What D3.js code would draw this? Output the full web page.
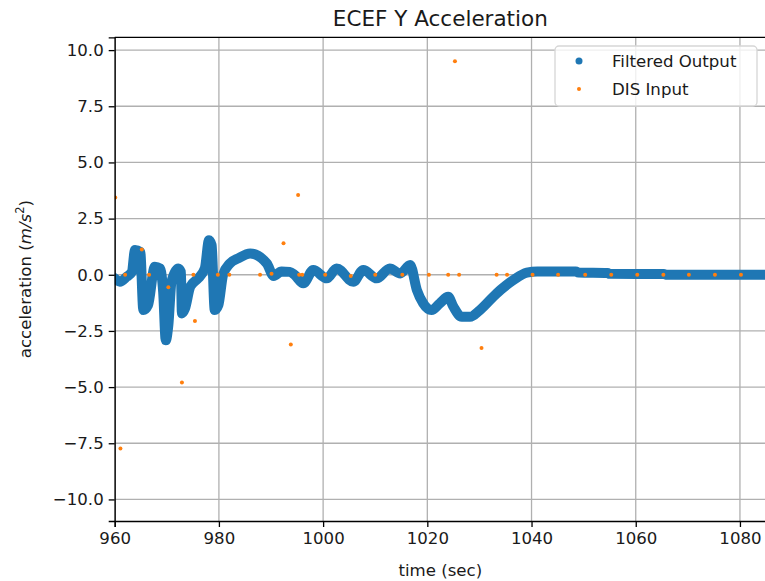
<!DOCTYPE html>
<html>
<head>
<meta charset="utf-8">
<script src="https://cdn.jsdelivr.net/npm/d3@7"></script>
<style>
  body { margin: 0; background: #fff; }
  svg { display: block; font-family: "DejaVu Sans", sans-serif; }
</style>
</head>
<body>
<svg id="chart"></svg>
<script>
'use strict';

let WIDTH = 765;
let HEIGHT = 581;

let COLOR = {
    FILTERED: '#1f77b4',
    DIS: '#ff7f0e'
};

// filtered output (time, acceleration)
let filteredT = [960.0, 961.0, 962.3, 963.3, 963.9, 964.9, 965.5, 966.4, 967.7, 968.7,
    969.3, 969.8, 970.3, 970.9, 972.2, 972.7, 972.9, 973.5, 974.5, 976.0,
    977.3, 978.1, 978.6, 979.2, 979.9, 980.8, 982.1, 983.7, 986.0, 989.2,
    990.5, 992.0, 993.6, 994.5, 996.2, 998.1, 1000.7, 1002.6, 1005.8, 1007.7,
    1010.3, 1012.8, 1014.8, 1016.7, 1018.0, 1019.2, 1020.8, 1022.4, 1024.0, 1025.0,
    1026.6, 1028.2, 1030.1, 1033.3, 1036.5, 1039.1, 1041.1, 1048.5, 1049.0, 1054.6,
    1055.0, 1065.4, 1066.0, 1085.0];
let filteredV = [-0.16, -0.31, -0.09, 0.13, 1.10, 1.02, -1.57, -1.35, 0.36, 0.28,
    -0.76, -2.92, -2.24, -0.31, 0.28, 0.13, -1.72, -1.50, -0.53, -0.16,
    0.28, 1.54, 1.32, -1.57, -1.35, 0.0, 0.50, 0.73, 0.95, 0.50,
    -0.05, 0.15, 0.13, 0.0, -0.38, 0.21, -0.16, 0.28, -0.31, 0.21,
    -0.16, 0.28, 0.06, 0.43, -0.68, -1.27, -1.57, -1.27, -0.98, -1.42,
    -1.87, -1.87, -1.57, -0.83, -0.24, 0.10, 0.15, 0.15, 0.10, 0.08,
    0.04, 0.03, 0.0, 0.0];

// DIS input samples
let disT = [960.1, 961.1, 962.0, 965.2, 966.6, 970.3, 972.9, 975.1, 975.4, 979.8,
    982.0, 987.9, 990.1, 992.4, 993.8, 995.2, 995.4, 996.0, 1000.4, 1005.3,
    1010.0, 1015.2, 1020.3, 1024.0, 1025.3, 1026.1, 1030.4, 1033.3, 1035.3, 1040.2,
    1045.1, 1050.3, 1055.3, 1060.3, 1065.3, 1070.2, 1075.2, 1080.2];
let disV = [3.44, -7.73, 0, 1.12, 0, -0.55, -4.80, 0, -2.06, 0,
    0, 0, 0.05, 1.40, -3.10, 3.55, 0, 0, 0, -0.05,
    0, 0, 0, 0, 9.50, 0, -3.26, 0, 0, 0,
    0, 0, 0, 0, 0, 0, 0, 0];

let xTicks = [960, 980, 1000, 1020, 1040, 1060, 1080];
let yTicks = [-10, -7.5, -5, -2.5, 0, 2.5, 5, 7.5, 10];

let margin = {left: 114.7, top: 37.3, right: 766, bottom: 521};

let svg = d3.select('#chart').attr('width', WIDTH).attr('height', HEIGHT);

let x = d3.scaleLinear().domain([960, 1085]).range([margin.left, margin.right]);
let y = d3.scaleLinear().domain([-10.96, 10.57]).range([margin.bottom, margin.top]);

svg.append('clipPath').attr('id', 'plot')
    .append('rect')
    .attr('x', margin.left).attr('y', margin.top)
    .attr('width', margin.right - margin.left)
    .attr('height', margin.bottom - margin.top);

// grid
let grid = svg.append('g').attr('stroke', '#b0b0b0').attr('stroke-width', 1.3);
grid.selectAll('.gx').data(xTicks).enter().append('line')
    .attr('x1', d => x(d)).attr('x2', d => x(d))
    .attr('y1', margin.top).attr('y2', margin.bottom);
grid.selectAll('.gy').data(yTicks).enter().append('line')
    .attr('x1', margin.left).attr('x2', margin.right)
    .attr('y1', d => y(d)).attr('y2', d => y(d));

// data
let plot = svg.append('g').attr('clip-path', 'url(#plot)');

let filtered = filteredT.map((t, i) => [t, filteredV[i]]);
let line = d3.line().curve(d3.curveMonotoneX).x(d => x(d[0])).y(d => y(d[1]));
plot.append('path')
    .attr('d', line(filtered))
    .attr('fill', 'none')
    .attr('stroke', COLOR.FILTERED)
    .attr('stroke-width', 10)
    .attr('stroke-linejoin', 'round')
    .attr('stroke-linecap', 'round');

let dis = disT.map((t, i) => [t, disV[i]]);
plot.selectAll('circle.dis').data(dis).enter().append('circle')
    .attr('cx', d => x(d[0]))
    .attr('cy', d => y(d[1]))
    .attr('r', 2)
    .attr('fill', COLOR.DIS);

// axes
let xAxis = d3.axisBottom(x).tickValues(xTicks).tickFormat(d3.format('d')).tickSizeOuter(0).tickSize(6).tickPadding(5);
let yAxis = d3.axisLeft(y).tickValues(yTicks).tickFormat(d3.format('.1f')).tickSizeOuter(0).tickSize(6).tickPadding(5);

let gx = svg.append('g').attr('transform', 'translate(0,' + margin.bottom + ')').call(xAxis);
let gy = svg.append('g').attr('transform', 'translate(' + margin.left + ',0)').call(yAxis);
[gx, gy].forEach(g => {
    g.select('.domain').attr('stroke', '#000').attr('stroke-width', 1.3);
    g.selectAll('.tick line').attr('stroke', '#000').attr('stroke-width', 1.3);
    g.selectAll('.tick text').attr('fill', '#1a1a1a').style('font-size', '16.6px')
        .style('font-family', '"DejaVu Sans", sans-serif');
});

// top spine
svg.append('line')
    .attr('x1', margin.left).attr('x2', margin.right)
    .attr('y1', margin.top).attr('y2', margin.top)
    .attr('stroke', '#000').attr('stroke-width', 1.3);

// titles
let cx = (margin.left + margin.right) / 2;
svg.append('text').attr('x', cx).attr('y', 26)
    .attr('text-anchor', 'middle').style('font-size', '21.5px').attr('fill', '#1a1a1a')
    .text('ECEF Y Acceleration');
svg.append('text').attr('x', cx).attr('y', 576)
    .attr('text-anchor', 'middle').style('font-size', '16.6px').attr('fill', '#1a1a1a')
    .text('time (sec)');

let yl = svg.append('text')
    .attr('transform', 'translate(31,' + ((margin.top + margin.bottom) / 2) + ') rotate(-90)')
    .attr('text-anchor', 'middle').style('font-size', '16.6px').attr('fill', '#1a1a1a');
yl.append('tspan').text('acceleration (');
yl.append('tspan').style('font-style', 'italic').text('m/s');
yl.append('tspan').attr('dy', -7).style('font-size', '11.5px').text('2');
yl.append('tspan').attr('dy', 7).text(')');

// legend
let legend = svg.append('g');
legend.append('rect')
    .attr('x', 555).attr('y', 46).attr('width', 202).attr('height', 60)
    .attr('rx', 4)
    .attr('fill', 'rgba(255,255,255,0.8)')
    .attr('stroke', '#d6d6d6').attr('stroke-width', 1.3);
let items = [
    {label: 'Filtered Output', color: COLOR.FILTERED, r: 3.5},
    {label: 'DIS Input', color: COLOR.DIS, r: 2}
];
items.forEach((it, i) => {
    let cy = 61 + i * 28;
    legend.append('circle').attr('cx', 579).attr('cy', cy).attr('r', it.r).attr('fill', it.color);
    legend.append('text').attr('x', 612).attr('y', cy).attr('dy', '0.35em')
        .style('font-size', '16.6px').attr('fill', '#1a1a1a').text(it.label);
});
</script>
</body>
</html>
